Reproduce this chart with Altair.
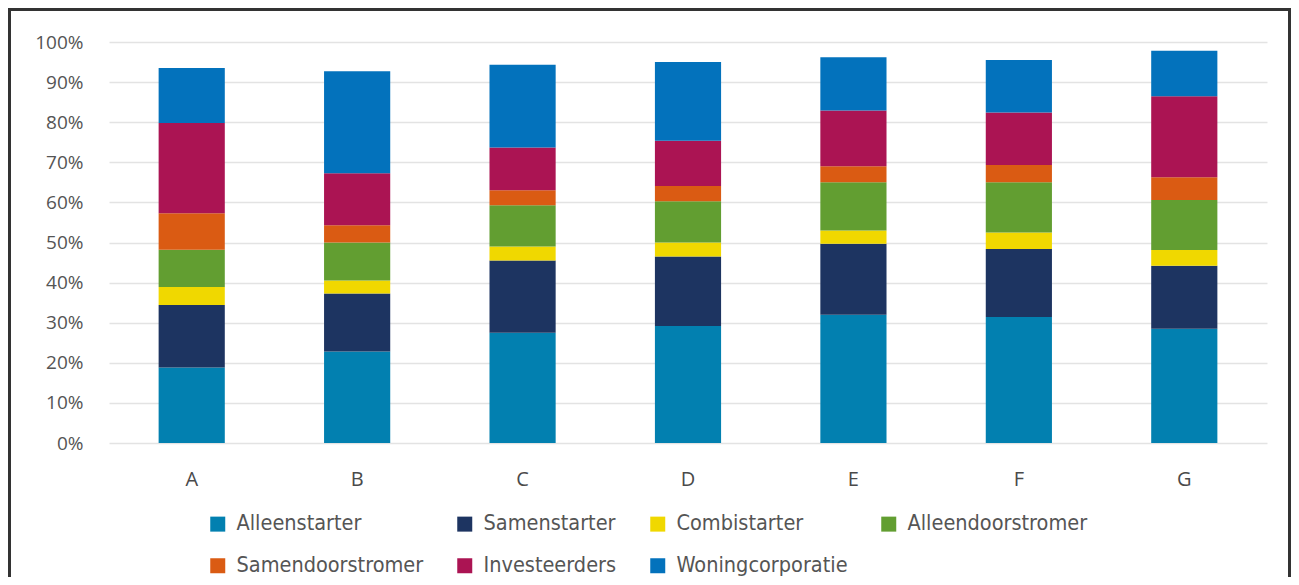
import altair as alt
import pandas as pd

categories = ["A", "B", "C", "D", "E", "F", "G"]
series = ["Alleenstarter", "Samenstarter", "Combistarter", "Alleendoorstromer",
          "Samendoorstromer", "Investeerders", "Woningcorporatie"]
colors = ["#0280B0", "#1D3461", "#F0D800", "#629E31", "#DA5B13", "#AB1453", "#0372BC"]

alleenstarter = [18.8, 22.8, 27.5, 29.2, 32.0, 31.4, 28.5]
samenstarter = [15.6, 14.5, 18.0, 17.3, 17.7, 17.0, 15.7]
combistarter = [4.5, 3.2, 3.5, 3.5, 3.3, 4.1, 3.9]
alleendoorstromer = [9.3, 9.5, 10.3, 10.3, 12.0, 12.5, 12.5]
samendoorstromer = [9.1, 4.3, 3.7, 3.8, 4.0, 4.3, 5.7]
investeerders = [22.5, 13.0, 10.7, 11.3, 13.9, 13.1, 20.2]
woningcorporatie = [13.7, 25.4, 20.6, 19.6, 13.3, 13.1, 11.3]

y_ticks = [0, 10, 20, 30, 40, 50, 60, 70, 80, 90, 100]

values = [alleenstarter, samenstarter, combistarter, alleendoorstromer,
          samendoorstromer, investeerders, woningcorporatie]
rows = []
for si, (name, vals) in enumerate(zip(series, values)):
    for cat, v in zip(categories, vals):
        rows.append({"cat": cat, "series": name, "value": v, "idx": si})
df = pd.DataFrame(rows)

W, H = 1158, 401
PAD_L, PAD_T, PAD_R, PAD_B = 101, 34, 24, 134

bars = alt.Chart(df).mark_bar().encode(
    x=alt.X("cat:N", sort=categories,
            scale=alt.Scale(paddingInner=0.6, paddingOuter=0.3),
            axis=alt.Axis(title=None, labelAngle=0, ticks=False, domain=False,
                          labelFont="Open Sans", labelFontSize=20,
                          labelColor="#4a4a4a", labelPadding=26)),
    y=alt.Y("value:Q", stack="zero",
            scale=alt.Scale(domain=[0, 100], nice=False),
            axis=alt.Axis(title=None, values=y_ticks, ticks=False, domain=False,
                          labelExpr="datum.value + '%'",
                          labelFont="Open Sans", labelFontSize=19,
                          labelColor="#555555", labelPadding=26,
                          gridColor="#e3e3e3", gridWidth=1.5)),
    color=alt.Color("series:N",
                    scale=alt.Scale(domain=series, range=colors),
                    legend=alt.Legend(title=None, orient="none", legendX=98, legendY=471,
                                      columns=4, direction="horizontal",
                                      symbolType="square", symbolSize=225,
                                      symbolStrokeWidth=0, symbolOpacity=1,
                                      labelFont="DejaVu Sans Condensed", labelFontSize=21.5,
                                      labelColor="#555555", labelOffset=8,
                                      columnPadding=30, rowPadding=19,
                                      labelLimit=400)),
    order=alt.Order("idx:Q", sort="ascending"),
)

frame = alt.Chart(alt.Data(values=[{"f": 1}])).mark_rect(
    fillOpacity=0, stroke="#333333", strokeWidth=3
).encode(
    x=alt.value(1.5 - PAD_L),
    x2=alt.value(PAD_R + W - 1.5),
    y=alt.value(1.5 - PAD_T),
    y2=alt.value(H + PAD_B + 50),
)

chart = alt.layer(bars, frame).properties(
    width=W, height=H,
    autosize=alt.AutoSizeParams(type="none"),
    padding={"left": PAD_L, "top": PAD_T, "right": PAD_R, "bottom": PAD_B},
    background="white",
).configure_view(stroke=None)

chart.save("out.html", embed_options={"renderer": "svg", "actions": False})
